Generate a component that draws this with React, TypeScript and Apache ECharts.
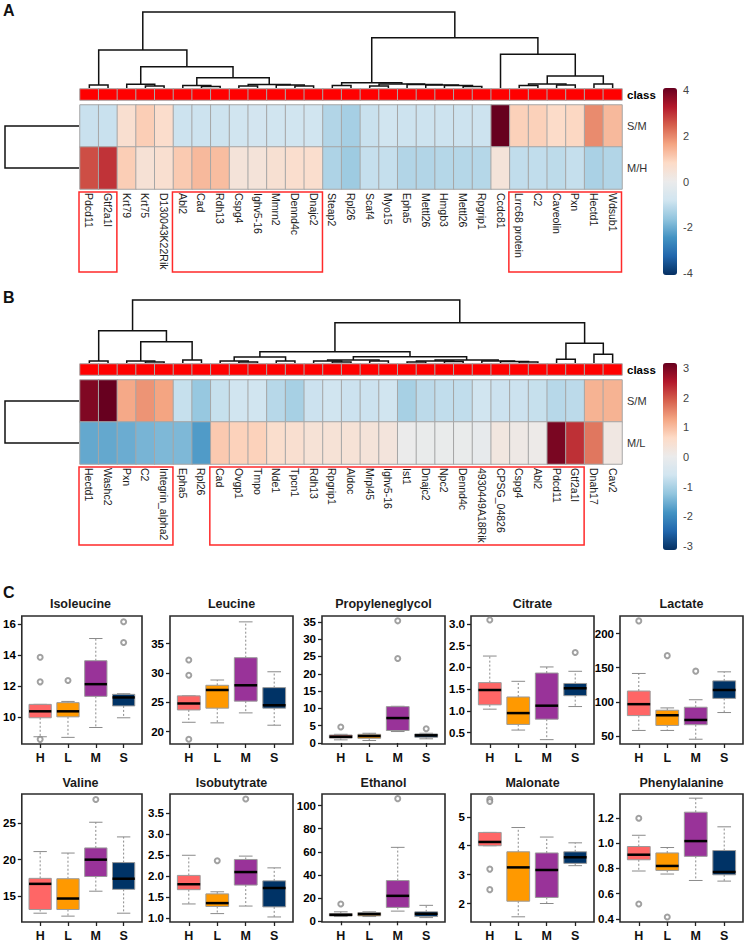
import React, { useEffect, useRef } from "react";
import * as echarts from "echarts";

const FONT = '"Liberation Sans", Arial, Helvetica, sans-serif';

// ---------------- Panel A (S/M vs M/H) ----------------
const genesA = ["Pdcd11", "Gtf2a1l", "Krt79", "Krt75", "D130043K22Rik", "Abl2", "Cad", "Rdh13", "Cspg4", "Ighv5-16", "Mmrn2", "Dennd4c", "Dnajc2", "Steap2", "Rpl26", "Scaf4", "Myo15", "Epha5", "Mettl26", "Hmgb3", "Mettl26", "Rpgrip1", "Ccdc81", "Lrrc68 protein", "C2", "Caveolin", "Pxn", "Hectd1", "Wdsub1"];
const rowsA = ["S/M", "M/H"];
const smA = [-0.9, -0.9, 0.6, 1.0, 0.7, -0.85, -0.85, -0.85, -0.8, -0.75, -0.8, -0.8, -0.8, -1.2, -1.35, -0.9, -0.8, -0.85, -0.85, -0.85, -0.85, -0.85, 4.0, 0.95, 0.95, 0.75, 0.85, 1.9, 1.3];
const mhA = [2.6, 2.9, 1.0, 0.5, 0.6, 1.05, 1.3, 1.25, 0.4, 0.4, 0.55, 0.65, 0.65, -1.25, -1.45, -0.95, -0.95, -1.2, -1.2, -1.15, -1.15, -1.15, 0.4, -1.0, -1.0, -1.05, -0.95, -1.3, -1.2];
// hclust-style merges: negative = leaf (-1 is leaf 0), positive = earlier merge (1-based); third = height
const mergesA: number[][] = [
  [-1, -2, 3], [-4, -5, 2], [-3, 2, 3.7], [-7, -8, 1.5], [-6, 4, 2.5], [-9, -10, 2], [-12, -13, 2], [-11, 7, 3],
  [6, 8, 3.5], [5, 9, 10.3], [3, 10, 21.3], [1, 11, 38], [-14, -15, 2.5], [-16, -17, 2], [-21, -22, 1.5], [-20, 15, 2.5],
  [-19, 16, 3], [-18, 17, 3.5], [14, 18, 4], [13, 19, 5.3], [-24, -25, 2.5], [-26, -27, 3], [21, 22, 4], [-28, -29, 4],
  [23, 24, 12], [-23, 25, 33.7], [20, 26, 50.3], [12, 27, 76],
];
const rowMergesA: number[][] = [[-1, -2, 1]];
const boxesA = [[0, 1], [5, 12], [23, 28]];
const scaleA = [-4, 4];

// ---------------- Panel B (S/M vs M/L) ----------------
const genesB = ["Hectd1", "Washc2", "Pxn", "C2", "Integrin_alpha2", "Epha5", "Rpl26", "Cad", "Ovgp1", "Tmpo", "Nde1", "Tpcn1", "Rdh13", "Rpgrip1", "Aldoc", "Mrpl45", "Ighv5-16", "Ist1", "Dnajc2", "Npc2", "Dennd4c", "4930449A18Rik", "CPSG_04826", "Cspg4", "Abl2", "Pdcd11", "Gtf2a1l", "Dnah17", "Cav2"];
const rowsB = ["S/M", "M/L"];
const smB = [2.8, 3.0, 1.15, 1.35, 1.2, -0.7, -1.15, -0.7, -0.6, -0.6, -0.85, -1.0, -0.65, -0.6, -0.65, -0.65, -0.6, -1.0, -0.8, -0.75, -0.75, -0.6, -0.65, -0.65, -0.7, -0.85, -0.8, 1.05, 1.05];
const mlB = [-1.55, -1.55, -1.5, -1.4, -1.35, -1.35, -1.7, 0.8, 0.7, 0.7, 0.5, 0.45, 0.35, 0.35, 0.35, 0.3, 0.25, 0.0, -0.05, -0.05, -0.05, -0.1, 0.2, 0.1, 0.05, 2.85, 2.2, 1.6, 0.15];
const mergesB: number[][] = [
  [-1, -2, 2], [-4, -5, 1], [-3, 2, 2], [-6, -7, 3], [3, 4, 21.3], [1, 5, 32.3], [-9, -10, 1], [-8, 7, 2],
  [-11, -12, 2], [8, 9, 6], [-14, -15, 1], [-13, 11, 2], [-16, -17, 2], [12, 13, 3], [-18, -19, 1], [-20, -21, 1.5],
  [15, 16, 2], [-24, -25, 1], [-23, 18, 1.5], [-22, 19, 2], [17, 20, 3], [14, 21, 6.3], [10, 22, 11.3], [-26, -27, 3.7],
  [-28, -29, 8.7], [24, 25, 19.7], [23, 26, 40.3], [6, 27, 63],
];
const rowMergesB: number[][] = [[-1, -2, 1]];
const boxesB = [[0, 4], [7, 26]];
const scaleB = [-3, 3];

const rdbu = ["#053061", "#2166AC", "#4393C3", "#92C5DE", "#D1E5F0", "#EBEBEB", "#FDDBC7", "#F4A582", "#D6604D", "#B2182B", "#67001F"];
const classColor = "#FF0000";

// ---------------- Panel C (boxplots) ----------------
const groups = ["H", "L", "M", "S"];
const groupColors = ["#FF6666", "#FF9900", "#993399", "#003366"];
const boxTitles = ["Isoleucine", "Leucine", "Propyleneglycol", "Citrate", "Lactate", "Valine", "Isobutytrate", "Ethanol", "Malonate", "Phenylalanine"];
// stats per group: [lower whisker, Q1, median, Q3, upper whisker]
const isoleucineStats = [[8.71, 9.94, 10.36, 10.81, 10.81], [8.67, 10.0, 10.36, 10.92, 11.0], [9.31, 11.33, 12.12, 13.64, 15.08], [9.94, 10.71, 11.26, 11.46, 11.5]];
const isoleucineOut = [[13.86, 12.27, 8.54], [12.36], [], [16.17, 14.82]];
const leucineStats = [[21.6, 23.7, 24.8, 26.1, 26.1], [21.5, 24.0, 27.1, 27.9, 28.8], [23.2, 25.2, 27.9, 32.6, 38.7], [21.1, 24.0, 24.5, 27.5, 30.2]];
const leucineOut = [[32.2, 29.6, 18.7], [], [], []];
const propyleneglycolStats = [[0.9, 1.4, 1.8, 2.3, 2.5], [0.7, 1.35, 2.0, 2.5, 2.8], [3.3, 3.6, 7.2, 10.5, 10.6], [1.2, 1.65, 2.2, 2.6, 2.8]];
const propyleneglycolOut = [[4.6], [], [35.3, 24.4], [4.1]];
const citrateStats = [[1.04, 1.14, 1.48, 1.65, 2.26], [0.56, 0.69, 0.95, 1.32, 1.68], [0.34, 0.81, 1.12, 1.87, 2.01], [1.1, 1.35, 1.52, 1.63, 1.91]];
const citrateOut = [[3.09], [], [], [2.34]];
const lactateStats = [[57.9, 79.7, 96.5, 115.8, 141.6], [57.9, 65.3, 80.2, 87.6, 91], [45, 66.3, 73.3, 92, 103], [84.2, 105, 117.3, 130.7, 144]];
const lactateOut = [[218.8], [167.8], [145], []];
const valineStats = [[12.7, 13.2, 16.7, 17.45, 21.1], [12.3, 13.2, 14.7, 17.4, 20.9], [15.7, 17.7, 20.0, 21.6, 25.1], [12.7, 15.95, 17.4, 19.6, 23.1]];
const valineOut = [[], [], [28.2], []];
const isobutyrateStats = [[1.33, 1.67, 1.8, 2.01, 2.49], [1.1, 1.27, 1.35, 1.57, 1.62], [1.28, 1.78, 2.09, 2.39, 2.47], [1.02, 1.26, 1.71, 1.88, 2.19]];
const isobutyrateOut = [[], [2.36], [3.83], []];
const ethanolStats = [[4.1, 4.7, 5.6, 6.7, 8.2], [4.1, 4.7, 6.2, 7.6, 8.2], [8.8, 12.0, 22, 35.2, 63.9], [3.2, 4.1, 6.5, 8.2, 13.8]];
const ethanolOut = [[15], [], [106], []];
const malonateStats = [[4.0, 4.0, 4.13, 4.46, 4.46], [1.54, 2.08, 3.25, 3.79, 4.63], [2.0, 2.21, 3.16, 3.75, 4.3], [3.31, 3.39, 3.6, 3.79, 4.1]];
const malonateOut = [[5.61, 5.53, 3.19, 2.48], [], [], []];
const phenylalanineStats = [[0.78, 0.869, 0.909, 0.974, 1.063], [0.756, 0.785, 0.82, 0.923, 0.966], [0.705, 0.896, 1.017, 1.246, 1.357], [0.7, 0.75, 0.772, 0.942, 1.13]];
const phenylalanineOut = [[1.198, 0.519], [0.416], [], []];

const boxYMin = [8.24, 17.9, -0.3, 0.24, 38, 11.5, 0.9, -0.6, 1.36, 0.376];
const boxYMax = [16.54, 39.7, 36.7, 3.18, 226, 28.95, 3.95, 110, 5.79, 1.39];
const boxYTicks = [[10, 12, 14, 16], [20, 25, 30, 35], [0, 5, 10, 15, 20, 25, 30, 35], [0.5, 1, 1.5, 2, 2.5, 3], [50, 100, 150, 200], [15, 20, 25], [1, 1.5, 2, 2.5, 3, 3.5], [0, 20, 40, 60, 80, 100], [2, 3, 4, 5], [0.4, 0.6, 0.8, 1, 1.2]];
const boxYDecimals = [0, 0, 0, 1, 0, 0, 1, 0, 0, 1];

const allStats = [isoleucineStats, leucineStats, propyleneglycolStats, citrateStats, lactateStats, valineStats, isobutyrateStats, ethanolStats, malonateStats, phenylalanineStats];
const allOut = [isoleucineOut, leucineOut, propyleneglycolOut, citrateOut, lactateOut, valineOut, isobutyrateOut, ethanolOut, malonateOut, phenylalanineOut];

// ---------------- helpers ----------------
function dendroLinks(merges: number[][]) {
  const pos: number[] = [];
  const hts: number[] = [];
  const node = (id: number): [number, number] => (id < 0 ? [-id - 1, 0] : [pos[id - 1], hts[id - 1]]);
  return merges.map(([a, b, h], k) => {
    const [xa, ha] = node(a);
    const [xb, hb] = node(b);
    pos[k] = (xa + xb) / 2;
    hts[k] = h;
    return [xa, ha, xb, hb, h];
  });
}

function dendroRender(horizontal: boolean) {
  return (_p: any, api: any) => {
    const xa = api.value(0), ha = api.value(1), xb = api.value(2), hb = api.value(3), h = api.value(4);
    const c = (p: number, hh: number) => (horizontal ? api.coord([hh, p]) : api.coord([p, hh]));
    return {
      type: "polyline",
      shape: { points: [c(xa, ha), c(xa, h), c(xb, h), c(xb, hb)] },
      style: { stroke: "#111", lineWidth: 1.5, fill: "none" },
    };
  };
}

function boxRender(_p: any, api: any) {
  const x = api.value(0);
  const lo = api.coord([x, api.value(1)]);
  const q1 = api.coord([x, api.value(2)]);
  const md = api.coord([x, api.value(3)]);
  const q3 = api.coord([x, api.value(4)]);
  const hi = api.coord([x, api.value(5)]);
  const w = api.size([0.8, 0])[0];
  const cx = lo[0];
  const color = groupColors[Math.round(x) - 1];
  const ws = { stroke: "#8a8a8a", lineWidth: 1, lineDash: [2, 2] };
  const ss = { stroke: "#8a8a8a", lineWidth: 1 };
  return {
    type: "group",
    children: [
      { type: "line", shape: { x1: cx, y1: q3[1], x2: cx, y2: hi[1] }, style: ws },
      { type: "line", shape: { x1: cx, y1: q1[1], x2: cx, y2: lo[1] }, style: ws },
      { type: "line", shape: { x1: cx - w * 0.3, y1: hi[1], x2: cx + w * 0.3, y2: hi[1] }, style: ss },
      { type: "line", shape: { x1: cx - w * 0.3, y1: lo[1], x2: cx + w * 0.3, y2: lo[1] }, style: ss },
      { type: "rect", shape: { x: cx - w / 2, y: q3[1], width: w, height: q1[1] - q3[1] }, style: { fill: color, stroke: "#9a9a9a", lineWidth: 1 } },
      { type: "line", shape: { x1: cx - w / 2, y1: md[1], x2: cx + w / 2, y2: md[1] }, style: { stroke: "#000", lineWidth: 2.5 } },
    ],
  };
}

function textEl(text: string, x: number, y: number, font: string, align = "left", fill = "#111") {
  return {
    type: "text",
    x,
    y,
    silent: true,
    style: { text, font, fill, align, textAlign: align, verticalAlign: "middle", textVerticalAlign: "middle" },
  };
}

function buildOption() {
  const grids: any[] = [];
  const xAxes: any[] = [];
  const yAxes: any[] = [];
  const series: any[] = [];
  const visualMaps: any[] = [];
  const graphics: any[] = [];
  const classSeries: number[] = [];

  const addGrid = (left: number, top: number, width: number, height: number, xAxis: any, yAxis: any, extra: any = {}) => {
    const gi = grids.length;
    grids.push({ left, top, width, height, ...extra });
    xAxes.push({ gridIndex: gi, ...xAxis });
    yAxes.push({ gridIndex: gi, ...yAxis });
    return gi;
  };
  const hiddenVal = (min: number, max: number, inverse = false) => ({ type: "value", min, max, inverse, show: false });

  // ---------- heatmap panels ----------
  const L = 80, W = 542;
  const heatPanels = [
    { genes: genesA, rows: rowsA, vals: [smA, mhA], merges: mergesA, rowMerges: rowMergesA, boxes: boxesA, scale: scaleA, ticks: 2,
      dTop: 12, dH: 76, classTop: 89, heatTop: 105, boxTop: 192, boxBottom: 272, cbTop: 88, cbH: 187, cbLabTop: 90, cbLabH: 183 },
    { genes: genesB, rows: rowsB, vals: [smB, mlB], merges: mergesB, rowMerges: rowMergesB, boxes: boxesB, scale: scaleB, ticks: 1,
      dTop: 300, dH: 63, classTop: 364, heatTop: 380, boxTop: 467, boxBottom: 545, cbTop: 363, cbH: 187, cbLabTop: 368, cbLabH: 178 },
  ];

  heatPanels.forEach((p) => {
    const n = p.genes.length;
    const cw = W / n;
    // column dendrogram
    const links = dendroLinks(p.merges);
    const rootH = p.merges[p.merges.length - 1][2];
    let gi = addGrid(L, p.dTop, W, p.dH, hiddenVal(-0.5, n - 0.5), hiddenVal(0, rootH));
    series.push({ type: "custom", xAxisIndex: gi, yAxisIndex: gi, silent: true, renderItem: dendroRender(false), data: links });

    // row dendrogram
    const rlinks = dendroLinks(p.rowMerges);
    gi = addGrid(5, p.heatTop, L - 5 - 1, 84, hiddenVal(0, p.rowMerges[0][2], true), hiddenVal(-0.5, 1.5, true));
    series.push({ type: "custom", xAxisIndex: gi, yAxisIndex: gi, silent: true, renderItem: dendroRender(true), data: rlinks });

    // class bar
    gi = addGrid(L, p.classTop, W, 11,
      { type: "category", data: p.genes, show: false },
      { type: "category", data: ["class"], position: "right", axisLine: { show: false }, axisTick: { show: false },
        axisLabel: { fontFamily: FONT, fontSize: 11.5, fontWeight: "bold", color: "#000", margin: 5 } });
    classSeries.push(series.length);
    series.push({ type: "heatmap", xAxisIndex: gi, yAxisIndex: gi, silent: true, emphasis: { disabled: true },
      itemStyle: { borderColor: "#A6A6A6", borderWidth: 1 },
      data: p.genes.map((_g, i) => [i, 0, 1]) });

    // main heatmap
    gi = addGrid(L, p.heatTop, W, 84,
      { type: "category", data: p.genes, axisLine: { show: false }, axisTick: { show: false },
        axisLabel: { interval: 0, rotate: -90, fontFamily: FONT, fontSize: 10.5, color: "#1a1a1a", margin: 4 } },
      { type: "category", data: p.rows, inverse: true, position: "right", axisLine: { show: false }, axisTick: { show: false },
        axisLabel: { fontFamily: FONT, fontSize: 11, color: "#333", margin: 5 } });
    const heatData: number[][] = [];
    p.vals.forEach((row, r) => row.forEach((v, i) => heatData.push([i, r, v])));
    const hsi = series.length;
    series.push({ type: "heatmap", xAxisIndex: gi, yAxisIndex: gi, silent: true, emphasis: { disabled: true },
      itemStyle: { borderColor: "#A6A6A6", borderWidth: 1 }, data: heatData });

    visualMaps.push({
      type: "continuous", seriesIndex: hsi, min: p.scale[0], max: p.scale[1], calculable: false, orient: "vertical",
      left: 663, top: p.cbTop, itemWidth: 14, itemHeight: p.cbH, padding: 0, inRange: { color: rdbu }, hoverLink: false,
    });
    // colorbar tick labels
    addGrid(663, p.cbLabTop, 14, p.cbLabH, hiddenVal(0, 1),
      { type: "value", min: p.scale[0], max: p.scale[1], interval: p.ticks, position: "right",
        axisLine: { show: false }, axisTick: { show: false }, splitLine: { show: false },
        axisLabel: { fontFamily: FONT, fontSize: 11, color: "#444", margin: 6 } });

    // highlight boxes
    p.boxes.forEach(([a, b]) => {
      const x1 = L + a * cw - 1;
      const x2 = L + (b + 1) * cw - 0.5;
      graphics.push({ type: "rect", silent: true, shape: { x: x1, y: p.boxTop, width: x2 - x1, height: p.boxBottom - p.boxTop },
        style: { fill: "none", stroke: "#FF2A2A", lineWidth: 1.5 } });
    });
  });

  visualMaps.push({
    type: "continuous", show: false, seriesIndex: classSeries, min: 0, max: 1, inRange: { color: [classColor, classColor] },
  });

  // ---------- boxplot panels ----------
  const colLeft = [19, 170, 322, 471, 620];
  const rowTop = [616, 794];
  const titleY = [604, 783];
  const pw = 123, ph = 128;
  boxTitles.forEach((title, k) => {
    const r = Math.floor(k / 5), c = k % 5;
    const left = colLeft[c], top = rowTop[r];
    const dec = boxYDecimals[k];
    const gi = addGrid(left, top, pw, ph,
      { type: "value", min: 0.34, max: 4.66, splitLine: { show: false }, axisLine: { show: false },
        axisTick: { show: true, length: 4, customValues: [1, 2, 3, 4], lineStyle: { color: "#222", width: 1.3 } },
        axisLabel: { customValues: [1, 2, 3, 4], formatter: (v: number) => groups[Math.round(v) - 1] ?? "",
          fontFamily: FONT, fontSize: 12.5, fontWeight: "bold", color: "#111", margin: 7 } },
      { type: "value", min: boxYMin[k], max: boxYMax[k], splitLine: { show: false }, axisLine: { show: false },
        axisTick: { show: true, length: 4, customValues: boxYTicks[k], lineStyle: { color: "#222", width: 1.3 } },
        axisLabel: { customValues: boxYTicks[k], formatter: (v: number) => v.toFixed(dec),
          fontFamily: FONT, fontSize: 11.5, fontWeight: "bold", color: "#000", margin: 6 } },
      { show: true, borderColor: "#2b2b2b", borderWidth: 1.6, backgroundColor: "transparent" });
    series.push({ type: "custom", xAxisIndex: gi, yAxisIndex: gi, silent: true, renderItem: boxRender,
      data: allStats[k].map((s, i) => [i + 1, ...s]) });
    series.push({ type: "scatter", xAxisIndex: gi, yAxisIndex: gi, silent: true, symbol: "emptyCircle", symbolSize: 5,
      itemStyle: { color: "#8a8a8a", borderColor: "#8a8a8a", borderWidth: 1 },
      data: allOut[k].flatMap((arr, i) => arr.map((v) => [i + 1, v])) });
    graphics.push(textEl(title, left + pw / 2, titleY[r], `bold 12.5px ${FONT}`, "center", "#1a1a1a"));
  });

  // panel letters
  graphics.push(textEl("A", 3, 10, `bold 16px ${FONT}`));
  graphics.push(textEl("B", 3, 297, `bold 16px ${FONT}`));
  graphics.push(textEl("C", 3, 592, `bold 16px ${FONT}`));

  return {
    animation: false,
    backgroundColor: "#ffffff",
    textStyle: { fontFamily: FONT },
    grid: grids,
    xAxis: xAxes,
    yAxis: yAxes,
    visualMap: visualMaps,
    series,
    graphic: { elements: graphics },
  };
}

export default function App() {
  const ref = useRef<HTMLDivElement | null>(null);
  useEffect(() => {
    if (!ref.current) return;
    const chart = echarts.init(ref.current, undefined, { renderer: "svg" });
    chart.setOption(buildOption() as any);
    return () => chart.dispose();
  }, []);
  return (
    <div
      ref={ref}
      style={{ position: "fixed", left: 0, top: 0, width: 745, height: 942, background: "#fff" }}
    />
  );
}
